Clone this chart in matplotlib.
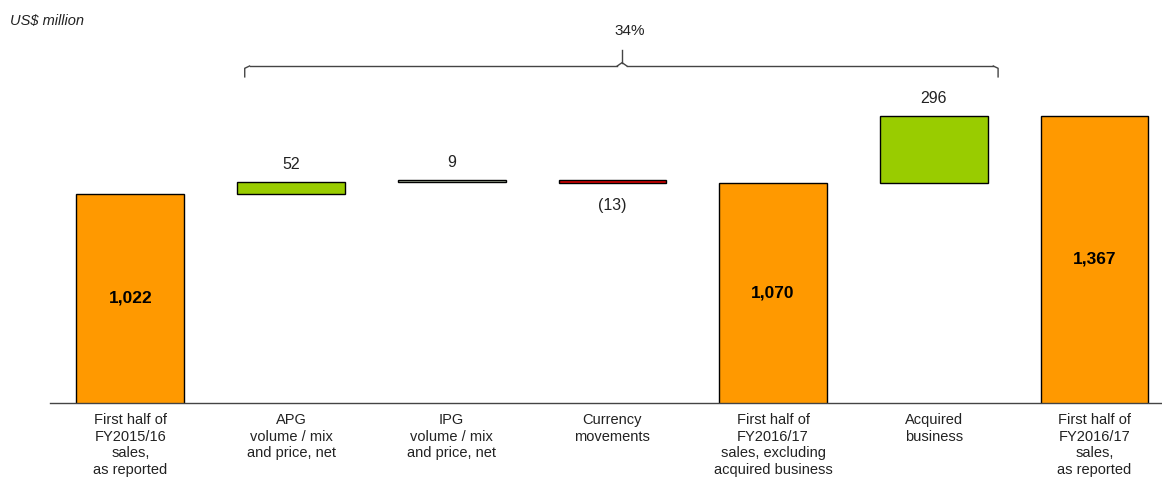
import matplotlib.pyplot as plt

categories = [
    "First half of\nFY2015/16\nsales,\nas reported",
    "APG\nvolume / mix\nand price, net",
    "IPG\nvolume / mix\nand price, net",
    "Currency\nmovements",
    "First half of\nFY2016/17\nsales, excluding\nacquired business",
    "Acquired\nbusiness",
    "First half of\nFY2016/17\nsales,\nas reported",
]
values = [1022, 52, 9, -13, 1070, 296, 1367]
kinds = ["total", "delta", "delta", "delta", "total", "delta", "total"]
value_labels = ["1,022", "52", "9", "(13)", "1,070", "296", "1,367"]
growth_label = "34%"

ORANGE = "#FF9900"
GREEN = "#99CC00"
GREY = "#B9C6AE"
RED = "#D90000"

plt.rcParams["font.family"] = ["Liberation Sans", "DejaVu Sans"]

fig = plt.figure(figsize=(11.62, 4.79), dpi=100)
ax = fig.add_axes([0.043, 0.1587, 0.957, 0.8413])
y0, y1 = 97.6, 1880
ax.set_xlim(-0.5, 6.42)
ax.set_ylim(y0, y1)

width = 0.67
running = 0
for i, (v, kind, lab) in enumerate(zip(values, kinds, value_labels)):
    if kind == "total":
        bottom, height, color = 0, v, ORANGE
        running = v
    else:
        bottom, height = running, v
        running += v
        if i == 2:
            color = GREY
        else:
            color = GREEN if v > 0 else RED
    ax.bar(i, height, width, bottom=bottom, color=color, edgecolor="black",
           linewidth=1.0, zorder=2)
    if kind == "total":
        ax.text(i, (y0 + v) / 2, lab, ha="center", va="center", fontsize=12.5,
                fontweight="bold", color="black")
    elif v > 0:
        ax.text(i, bottom + height + 45, lab, ha="center", va="bottom",
                fontsize=11.5, color="#222222")
    else:
        ax.text(i, bottom + height - 65, lab, ha="center", va="top",
                fontsize=11.5, color="#222222")

# bracket spanning the organic + acquired movements
bx0, bx1, bxm = 0.712, 5.40, 3.06
b_low, b_high, b_peak = 1540, 1588, 1660
lc = "#444444"
r = 0.03
ax.plot([bx0, bx0, bx0 + r], [b_low, b_high - 10, b_high], color=lc, lw=1)
ax.plot([bx0 + r, bxm - r], [b_high, b_high], color=lc, lw=1)
ax.plot([bxm - r, bxm, bxm + r], [b_high, b_high + 15, b_high], color=lc, lw=1)
ax.plot([bxm, bxm], [b_high + 15, b_peak], color=lc, lw=1)
ax.plot([bxm + r, bx1 - r], [b_high, b_high], color=lc, lw=1)
ax.plot([bx1 - r, bx1, bx1], [b_high, b_high - 10, b_low], color=lc, lw=1)
ax.text(3.108, 1745, growth_label, ha="center", va="center", fontsize=11,
        color="#222222")

fig.text(10 / 1162, 1 - 21 / 479, "US$ million", ha="left", va="center",
         fontsize=10.5, style="italic", color="#222222")

for side in ["top", "right", "left"]:
    ax.spines[side].set_visible(False)
ax.spines["bottom"].set_color("#444444")
ax.spines["bottom"].set_linewidth(1.0)
ax.set_yticks([])
ax.set_xticks(range(len(categories)))
ax.set_xticklabels(categories, fontsize=10.5, color="#222222",
                   linespacing=1.26)
ax.tick_params(axis="x", length=0, pad=7)

fig.savefig("out.png", dpi=100)
